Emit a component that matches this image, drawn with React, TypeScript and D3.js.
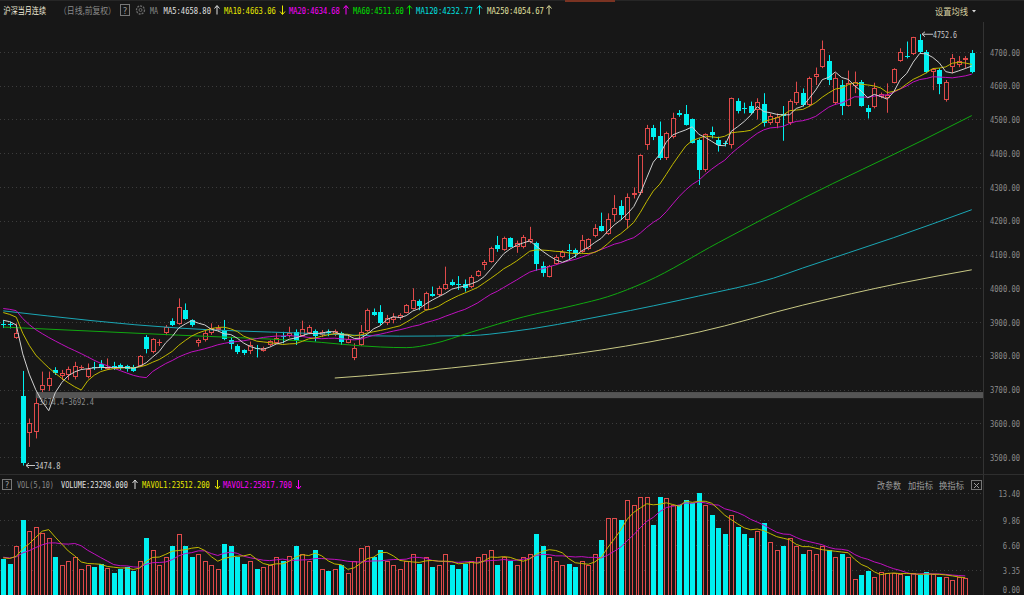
import React from 'react';
import * as d3 from 'd3';

// ---------- DATA ----------
const opens = [3893,3893,3852,3681,3570,3575,3698,3710,3758,3740,3742,3738,3763,3738,3766,3777,3762,3770,3772,3770,3768,3770,3856,3810,3838,3866,3904,3894,3937,3906,3838,3846,3866,3876,3876,3846,3829,3817,3815,3822,3815,3832,3839,3858,3858,3871,3858,3868,3874,3861,3871,3864,3868,3839,3792,3832,3874,3930,3930,3898,3906,3911,3928,3940,3963,3937,3982,3980,3997,4019,4014,4014,4003,4036,4069,4079,4128,4113,4148,4121,4123,4138,4133,4066,4032,4072,4092,4113,4113,4108,4115,4155,4184,4161,4217,4245,4202,4276,4281,4424,4476,4451,4385,4449,4518,4516,4500,4439,4350,4464,4439,4430,4424,4556,4533,4540,4528,4546,4491,4489,4516,4489,4548,4578,4543,4627,4655,4674,4548,4602,4540,4599,4612,4533,4536,4566,4563,4609,4674,4688,4694,4737,4701,4642,4647,4558,4657,4661,4676,4698];
const highs = [3906,3901,3896,3755,3614,3674.4,3753,3753,3766,3758,3768,3782,3772,3777,3782,3787,3792,3782,3777,3773,3773,3802,3861,3852,3849,3891,3911,3970,3955,3908,3851,3876,3896,3891,3906,3856,3834,3819,3842,3832,3827,3846,3868,3871,3886,3878,3904,3891,3878,3876,3878,3878,3871,3858,3837,3891,3940,3940,3950,3921,3926,3926,3953,4000,3967,3990,4005,4007,4064,4026,4036,4026,4039,4054,4084,4123,4155,4153,4151,4141,4158,4182,4138,4079,4069,4099,4113,4131,4118,4158,4148,4190,4224,4222,4276,4261,4281,4299,4397,4484,4484,4494,4464,4520,4528,4543,4503,4444,4459,4479,4449,4437,4565,4563,4550,4553,4563,4578,4518,4518,4540,4560,4612,4592,4627,4654,4734,4691,4637,4617,4645,4642,4617,4543,4609,4580,4607,4652,4711,4731,4745,4752.6,4706,4652,4652,4617,4694,4688,4688,4706];
const lows = [3882,3881,3850,3474.8,3530,3555,3692.4,3696,3743,3728,3728,3730,3758,3733,3758,3758,3758,3758,3758,3753,3752,3768,3807,3807,3829,3861,3888,3892,3906,3886,3827,3842,3862,3871,3846,3819,3805,3802,3805,3795,3812,3829,3835,3837,3854,3832,3856,3864,3842,3856,3858,3858,3832,3837,3787,3829,3871,3918,3891,3891,3896,3906,3926,3937,3935,3935,3975,3975,3995,4007,3995,3990,4000,4034,4054,4076,4108,4111,4121,4105,4118,4133,4052,4034,4032,4069,4089,4086,4091,4105,4113,4151,4168,4158,4197,4202,4177,4266,4276,4410,4439,4380,4380,4444,4508,4482,4429,4306,4345,4444,4405,4420,4414,4518,4518,4516,4500,4479,4484,4474,4437,4484,4543,4538,4538,4602,4652,4602,4543,4513,4538,4578,4538,4503,4533,4563,4520,4607,4671,4681,4691,4696,4637,4587,4575,4553,4637,4655,4652,4637];
const closes = [3890,3890,3866,3481,3600,3659,3713,3733,3748,3750,3760,3770,3768,3760,3763,3766,3768,3767,3764,3761,3754,3799,3819,3849,3842,3884,3892,3945,3908,3892,3846,3866,3881,3883,3849,3835,3812,3808,3832,3820,3824,3844,3854,3855,3868,3843,3878,3884,3858,3871,3867,3874,3842,3851,3822,3871,3935,3921,3896,3911,3916,3921,3950,3965,3947,3985,3978,4000,4014,4010,4010,4000,4032,4052,4079,4118,4115,4148,4123,4133,4153,4145,4072,4044,4066,4094,4108,4109,4101,4143,4145,4180,4171,4204,4239,4217,4269,4281,4395,4474,4449,4385,4461,4503,4513,4484,4431,4350,4457,4454,4424,4427,4563,4526,4531,4518,4553,4489,4510,4506,4510,4556,4582,4543,4622,4635,4708,4617,4622,4540,4607,4612,4540,4521,4592,4575,4573,4649,4701,4685,4743,4701,4642,4649,4605,4612,4681,4674,4683,4642];
// closes before the visible window (for moving-average warm-up)
const priorCloses = [3940,3945,3950,3960,3955,3950,3960,3955,3950,3955,3945,3950,3955,3960,3945,3910,3915,3910,3900];
// volume in 10k lots
const volumes = [4.8,4.2,6.5,9.9,8.5,9.0,8.2,7.5,5.0,4.0,4.5,5.0,3.5,4.0,3.8,4.2,3.6,3.0,3.5,3.8,3.2,4.5,7.5,6.0,4.0,5.0,6.5,8.0,6.5,5.0,5.5,4.5,4.0,3.5,6.8,6.5,5.0,4.2,4.5,3.5,3.8,4.0,5.0,4.5,5.2,6.5,5.5,4.5,6.0,3.5,3.2,3.5,4.0,3.0,4.5,6.2,6.5,5.0,6.0,4.5,4.0,3.5,4.5,5.5,4.2,5.0,3.8,4.0,5.5,4.0,3.5,4.2,4.5,5.0,5.5,6.0,4.0,5.0,4.5,4.0,5.0,5.5,8.0,6.5,5.0,4.5,4.0,4.2,3.8,4.5,4.0,5.5,7.3,10.1,10.1,9.9,12.5,11.8,12.9,12.9,9.2,12.9,12.7,11.8,11.8,12.5,12.1,13.4,11.8,10.5,8.8,8.0,10.5,9.0,8.0,7.5,8.5,9.5,7.0,6.0,6.5,7.5,6.5,5.5,6.0,5.5,6.5,6.0,5.0,5.5,5.0,2.2,2.7,3.2,2.5,3.1,3.0,3.0,2.8,2.56,2.9,2.7,3.1,2.8,2.43,2.5,2.1,2.4,2.33];
const priorVolumes = [5.2,5.0,4.8,5.5,5.0,4.6,5.1,4.9,5.3];

const ma60Idx = [0,27,46,58,62,66,72,80,88,93,99,110,123,141.5,149];
const ma60Val = [3885,3861,3844,3826,3824,3835,3870,3915,3950,3975,4020,4135,4266,4439,4511.6];
const ma120Idx = [0,27,46,61,72,77.5,93,107,118.5,123,137,149];
const ma120Val = [3933,3882,3867,3858,3860,3870,3921,3977,4030,4060,4150,4232.77];
const ma250Idx = [51,61,77,92,107,123,138,149];
const ma250Val = [3734,3749,3781,3817,3870,3950,4015,4054.67];

const priceTicks = [3500,3600,3700,3800,3900,4000,4100,4200,4300,4400,4500,4600,4700];
const volTicks = [13.40, 9.86, 6.60, 3.35, 0];
const volTickLabels = ['13.40','9.86','6.60','3.35','0.00'];

const gapLow = 3674.4, gapHigh = 3692.4, gapStart = 5;
const markHighIdx = 141, markLowIdx = 3;

// ---------- STYLE ----------
const BG = '#171717';
const RED = '#e04a4a';
const CYAN = '#00f0f0';
const GRID = '#3c3c3c';
const AXIS_TXT = '#8c8c8c';
const MONO = '"DejaVu Sans Mono", monospace';
const CJK = '"Noto Sans CJK SC", sans-serif';

let measureCtx: CanvasRenderingContext2D | null = null;
function measure(text: string, size: number, family: string) {
  if (!measureCtx) measureCtx = document.createElement('canvas').getContext('2d');
  if (!measureCtx) return text.length * size * 0.6;
  measureCtx.font = `${size}px ${family}`;
  return measureCtx.measureText(text).width || text.length * size * 0.6;
}

function sma(arr: number[], n: number, prior: number[]) {
  const all = prior.concat(arr);
  return arr.map((_, i) => {
    const j = prior.length + i;
    const s = all.slice(j - n + 1, j + 1);
    return d3.mean(s) as number;
  });
}

function Arrow({ x, y, up, color }: { x: number; y: number; up: boolean; color: string }) {
  const d = up
    ? `M${x} ${y + 4.5} L${x} ${y - 4} M${x - 2.5} ${y - 1.5} L${x} ${y - 4.5} L${x + 2.5} ${y - 1.5}`
    : `M${x} ${y - 4.5} L${x} ${y + 4} M${x - 2.5} ${y + 1.5} L${x} ${y + 4.5} L${x + 2.5} ${y + 1.5}`;
  return <path d={d} stroke={color} strokeWidth={1} fill="none" />;
}

// text squeezed horizontally to a measured width
function T({ x, y, w, text, color, font = MONO, size = 9.5, anchor = 'start' }: any) {
  const nat = measure(text, size, font);
  const sx = Math.min(1.2, w / nat);
  return (
    <text transform={`translate(${x},${y}) scale(${sx.toFixed(4)},1)`} x={0} y={0} fill={color}
      fontFamily={font} fontSize={size} textAnchor={anchor}>{text}</text>
  );
}

export default function App() {
  const N = closes.length;
  const xPos = d3.scaleLinear().domain([0, N - 1]).range([3.25, 971.75]);
  const yP = d3.scaleLinear().domain([3500, 4700]).range([457, 52]);
  const yV = d3.scaleLinear().domain([0, 13.4]).range([595.7, 493]);
  const cx = (i: number) => Math.round(xPos(i));

  const ma5 = sma(closes, 5, priorCloses);
  const ma10 = sma(closes, 10, priorCloses);
  const ma20 = sma(closes, 20, priorCloses);
  const mv5 = sma(volumes, 5, priorVolumes);
  const mv10 = sma(volumes, 10, priorVolumes);

  const lineP = d3.line<number>().x((_, i) => xPos(i)).y((d) => yP(d));
  const lineV = d3.line<number>().x((_, i) => xPos(i)).y((d) => yV(d));
  const knotLine = (idx: number[], val: number[]) =>
    d3.line<number>().x((_, k) => xPos(idx[k])).y((d) => yP(d)).curve(d3.curveMonotoneX)(val) as string;

  const candles = closes.map((c, i) => {
    const o = opens[i], h = highs[i], l = lows[i];
    const up = c >= o;
    const x = cx(i);
    const top = Math.round(yP(Math.max(o, c)));
    const bot = Math.round(yP(Math.min(o, c)));
    const hy = yP(h), ly = yP(l);
    if (up) {
      const hh = Math.max(bot - top, 1);
      return (
        <g key={i}>
          <line x1={x + 0.5} x2={x + 0.5} y1={hy} y2={top} stroke={RED} />
          <line x1={x + 0.5} x2={x + 0.5} y1={top + hh} y2={ly} stroke={RED} />
          {hh > 1 ? (
            <rect x={x - 1.5} y={top + 0.5} width={4} height={hh - 1} fill={BG} stroke={RED} />
          ) : (
            <line x1={x - 2} x2={x + 3} y1={top + 0.5} y2={top + 0.5} stroke={RED} />
          )}
        </g>
      );
    }
    return (
      <g key={i}>
        <line x1={x + 0.5} x2={x + 0.5} y1={hy} y2={ly} stroke={CYAN} />
        <rect x={x - 2} y={top} width={5} height={Math.max(bot - top, 1)} fill={CYAN} />
      </g>
    );
  });

  const volBars = volumes.map((v, i) => {
    const up = closes[i] >= opens[i];
    const x = cx(i);
    const top = Math.round(yV(v));
    if (up) {
      return <rect key={i} x={x - 1.5} y={top + 0.5} width={4} height={600 - top} fill={BG} stroke={RED} />;
    }
    return <rect key={i} x={x - 2} y={top} width={5} height={600 - top} fill={CYAN} />;
  });

  const hiX = cx(markHighIdx) + 2;
  const hiY = yP(highs[markHighIdx]);
  const loX = cx(markLowIdx) + 3;
  const loY = yP(lows[markLowIdx]);

  return (
    <svg width={1024} height={595} style={{ position: 'fixed', left: 0, top: 0, background: BG }}>
      <rect x={0} y={0} width={1024} height={595} fill={BG} />
      <defs>
        <clipPath id="pclip"><rect x={0} y={22} width={983} height={452} /></clipPath>
        <clipPath id="vclip"><rect x={0} y={493} width={983} height={102} /></clipPath>
      </defs>

      {/* top tab line */}
      <rect x={0} y={0} width={1024} height={1} fill="#262626" />
      <rect x={565} y={0} width={50} height={2} fill="#7a3322" />

      {/* price grid */}
      {priceTicks.map((t) => (
        <g key={t}>
          <line x1={0} x2={983} y1={Math.round(yP(t)) + 0.5} y2={Math.round(yP(t)) + 0.5}
            stroke={GRID} strokeDasharray="1,3" />
          <T x={1020} y={yP(t) + 3.5} w={30} text={t.toFixed(2)} color={AXIS_TXT} anchor="end" />
        </g>
      ))}

      {/* volume grid */}
      {volTicks.map((t, k) => (
        <g key={k}>
          {t > 0 && (
            <line x1={0} x2={983} y1={Math.round(yV(t)) + 0.5} y2={Math.round(yV(t)) + 0.5}
              stroke={GRID} strokeDasharray="1,3" />
          )}
          <T x={1020} y={Math.min(yV(t), 589) + 3.5} w={volTickLabels[k].length * 4.3}
            text={volTickLabels[k]} color={AXIS_TXT} anchor="end" />
        </g>
      ))}

      {/* axis & separators */}
      <line x1={983.5} x2={983.5} y1={22} y2={595} stroke="#333" />
      <line x1={0} x2={1024} y1={474.5} y2={474.5} stroke="#2e2e2e" />

      {/* gap band */}
      <rect x={xPos(gapStart)} y={yP(gapHigh)} width={983 - xPos(gapStart)}
        height={yP(gapLow) - yP(gapHigh)} fill="#555" />
      <T x={39} y={405} w={55} text={`${gapLow.toFixed(1)}-${gapHigh.toFixed(1)}`} color="#8c8c8c" />

      <g clipPath="url(#pclip)">
        {candles}
        <path d={knotLine(ma250Idx, ma250Val)} fill="none" stroke="#c8c884" strokeWidth={1} />
        <path d={knotLine(ma120Idx, ma120Val)} fill="none" stroke="#1aa6b4" strokeWidth={1} />
        <path d={knotLine(ma60Idx, ma60Val)} fill="none" stroke="#10a810" strokeWidth={1} />
        <path d={lineP(ma20) as string} fill="none" stroke="#c010c0" strokeWidth={1} />
        <path d={lineP(ma10) as string} fill="none" stroke="#c0b800" strokeWidth={1} />
        <path d={lineP(ma5) as string} fill="none" stroke="#d0d0d0" strokeWidth={1} />
      </g>

      {/* high/low marks */}
      <path d={`M${hiX + 11} ${hiY} L${hiX} ${hiY} M${hiX + 3} ${hiY - 2.5} L${hiX} ${hiY} L${hiX + 3} ${hiY + 2.5}`}
        stroke="#c8c8c8" fill="none" />
      <T x={hiX + 11} y={hiY + 3.5} w={24} text={highs[markHighIdx].toFixed(1)} color="#c8c8c8" />
      <path d={`M${loX + 9} ${loY} L${loX} ${loY} M${loX + 3} ${loY - 2.5} L${loX} ${loY} L${loX + 3} ${loY + 2.5}`}
        stroke="#c8c8c8" fill="none" />
      <T x={loX + 9} y={loY + 3.5} w={25.7} text={lows[markLowIdx].toFixed(1)} color="#c8c8c8" />

      {/* volume */}
      <g clipPath="url(#vclip)">
        {volBars}
        <path d={lineV(mv10) as string} fill="none" stroke="#c010c0" strokeWidth={1} />
        <path d={lineV(mv5) as string} fill="none" stroke="#c0b800" strokeWidth={1} />
      </g>

      {/* header */}
      <T x={3.6} y={14} w={42.4} text="沪深当月连续" color="#eeeadb" font={CJK} size={9} />
      <T x={59} y={14} w={57} text="（日线,前复权）" color="#8a8a8a" font={CJK} size={9} />
      <rect x={120.5} y={4.5} width={9} height={11} fill="none" stroke="#777" />
      <T x={122.5} y={13.5} w={5} text="?" color="#999" />
      <circle cx={140.5} cy={10} r={4} fill="none" stroke="#6a6a6a" strokeWidth={1.3} strokeDasharray="2,1" />
      <circle cx={140.5} cy={10} r={1.5} fill="none" stroke="#6a6a6a" />
      <T x={150} y={14} w={8} text="MA" color="#8a8a8a" />
      <T x={163.6} y={14} w={47.4} text="MA5:4658.80" color="#e0e0e0" />
      <Arrow x={217} y={10} up={true} color="#e0e0e0" />
      <T x={224} y={14} w={52} text="MA10:4663.06" color="#e8e800" />
      <Arrow x={282.5} y={10} up={false} color="#e8e800" />
      <T x={289} y={14} w={51} text="MA20:4634.68" color="#ff00ff" />
      <Arrow x={346} y={10} up={true} color="#ff00ff" />
      <T x={353} y={14} w={51} text="MA60:4511.60" color="#00e000" />
      <Arrow x={409.5} y={10} up={true} color="#00e000" />
      <T x={416} y={14} w={57} text="MA120:4232.77" color="#00e0e0" />
      <Arrow x={479.5} y={10} up={true} color="#00e0e0" />
      <T x={487} y={14} w={57} text="MA250:4054.67" color="#e0e0a0" />
      <Arrow x={549} y={10} up={true} color="#e0e0a0" />

      <T x={935} y={15} w={33} text="设置均线" color="#d8d0a0" font={CJK} size={9} />
      <path d="M972 10 L976 10 L974 12.5 Z" fill="#d8d8d8" />

      {/* volume header */}
      <rect x={2.5} y={479.5} width={9} height={10} fill="none" stroke="#777" />
      <T x={4.5} y={488} w={5} text="?" color="#999" />
      <T x={17} y={488} w={37} text="VOL(5,10)" color="#8a8a8a" />
      <T x={61} y={488} w={67} text="VOLUME:23298.000" color="#e0e0e0" />
      <Arrow x={135} y={484.5} up={true} color="#e0e0e0" />
      <T x={142} y={488} w={68} text="MAVOL1:23512.200" color="#e8e800" />
      <Arrow x={217.5} y={484.5} up={false} color="#e8e800" />
      <T x={223} y={488} w={69} text="MAVOL2:25817.700" color="#ff00ff" />
      <Arrow x={298.5} y={484.5} up={false} color="#ff00ff" />

      <T x={877} y={489} w={24} text="改参数" color="#9a9a9a" font={CJK} size={9} />
      <T x={908} y={489} w={25} text="加指标" color="#9a9a9a" font={CJK} size={9} />
      <T x={939} y={489} w={25} text="换指标" color="#9a9a9a" font={CJK} size={9} />
      <rect x={971.5} y={480.5} width={10} height={9} fill="none" stroke="#777" />
      <path d="M974 483 L979 488 M979 483 L974 488" stroke="#999" />
    </svg>
  );
}
